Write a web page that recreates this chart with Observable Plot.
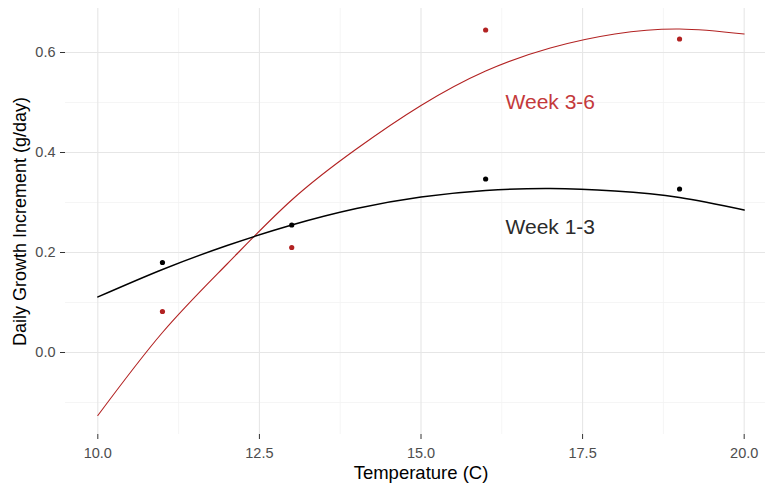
<!DOCTYPE html>
<html><head><meta charset="utf-8">
<script src="https://cdn.jsdelivr.net/npm/d3@7"></script>
<script src="https://cdn.jsdelivr.net/npm/@observablehq/plot@0.6"></script>
<style>body{margin:0;background:#fff;}</style>
</head><body><div id="chart"></div>
<script>
// Observed points
const temps = [11, 13, 16, 19];
const week13 = [0.180, 0.255, 0.347, 0.327];
const week36 = [0.082, 0.210, 0.645, 0.627];
// Fitted curves
const fitTemps = [10, 11, 12, 13, 14, 15, 16, 17, 18, 19, 20];
const fit13 = [0.111, 0.166, 0.214, 0.255, 0.288, 0.311, 0.324, 0.328, 0.323, 0.310, 0.285];
const fit36 = [-0.126, 0.040, 0.177, 0.305, 0.407, 0.494, 0.563, 0.609, 0.637, 0.647, 0.637];
// Axes
const xTicks = [10, 12.5, 15, 17.5, 20];
const xMinor = [11.25, 13.75, 16.25, 18.75];
const yTicks = [0, 0.2, 0.4, 0.6];
const yMinor = [-0.1, 0.1, 0.3, 0.5];
const labels = [
  {x: 17, y: 0.5, text: "Week 3-6", color: "#c4393b"},
  {x: 17, y: 0.25, text: "Week 1-3", color: "#2b2b2b"}
];
const xTitle = "Temperature (C)";
const yTitle = "Daily Growth Increment (g/day)";

const pts13 = temps.map((t, i) => ({t, v: week13[i]}));
const pts36 = temps.map((t, i) => ({t, v: week36[i]}));
const line13 = fitTemps.map((t, i) => ({t, v: fit13[i]}));
const line36 = fitTemps.map((t, i) => ({t, v: fit36[i]}));

const RED = "#b22222";
const chart = Plot.plot({
  width: 765, height: 490,
  marginLeft: 65, marginRight: 0, marginTop: 8, marginBottom: 56,
  style: {fontFamily: "'Liberation Sans', Arial, sans-serif", background: "#fff", overflow: "visible"},
  x: {domain: [9.5, 20.5], range: [65, 776]},
  y: {domain: [-0.164, 0.688]},
  marks: [
    Plot.ruleX(xMinor, {stroke: "#f2f2f2", strokeWidth: 0.8}),
    Plot.ruleY(yMinor, {stroke: "#f2f2f2", strokeWidth: 0.8}),
    Plot.ruleX(xTicks, {stroke: "#e6e6e6", strokeWidth: 1.1}),
    Plot.ruleY(yTicks, {stroke: "#e6e6e6", strokeWidth: 1.1}),
    Plot.axisX({ticks: xTicks, tickFormat: d3.format(".1f"), tickSize: 5, tickPadding: 8, fontSize: 14.5, stroke: "#333", fill: "#4d4d4d", label: null}),
    Plot.axisY({ticks: yTicks, tickFormat: d3.format(".1f"), tickSize: 5, tickPadding: 5, fontSize: 14.5, stroke: "#333", fill: "#4d4d4d", label: null}),
    Plot.line(line36, {x: "t", y: "v", stroke: RED, strokeWidth: 1.1, curve: "natural"}),
    Plot.line(line13, {x: "t", y: "v", stroke: "#000", strokeWidth: 1.4, curve: "natural"}),
    Plot.dot(pts13, {x: "t", y: "v", r: 2.6, fill: "#000"}),
    Plot.dot(pts36, {x: "t", y: "v", r: 2.6, fill: RED}),
    Plot.text(labels, {x: "x", y: "y", text: "text", fill: "color", fontSize: 21}),
    Plot.text([xTitle], {x: [15], frameAnchor: "bottom", dy: 44, fontSize: 18.5, fill: "#000"}),
    Plot.text([yTitle], {frameAnchor: "left", textAnchor: "middle", dx: -45, rotate: -90, fontSize: 18, fill: "#000"})
  ]
});
document.getElementById("chart").appendChild(chart);
</script>
</body></html>
